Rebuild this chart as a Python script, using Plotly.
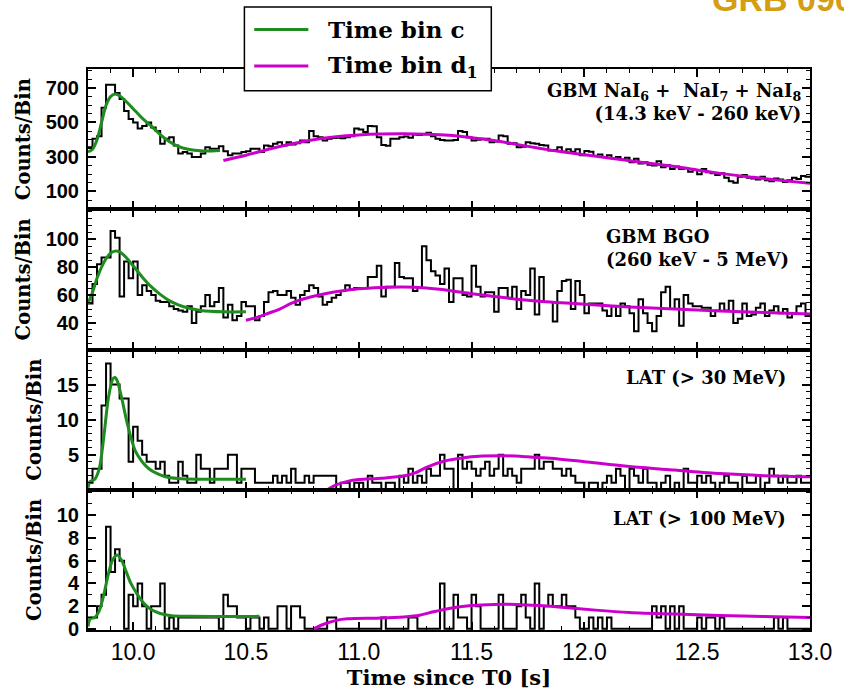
import numpy as np
import plotly.graph_objects as go
from plotly.subplots import make_subplots

# ---- binning (0.02 s bins starting at 9.80 s) ----
BIN_START = 9.80
BIN_WIDTH = 0.02

# ---- light curves: counts per bin ----
nai_counts = [
    357, 405, 420, 586, 719, 719, 671, 636, 567, 520,
    500, 465, 480, 500, 471, 450, 376, 405, 415, 367,
    320, 329, 320, 300, 300, 320, 357, 347, 347, 362,
    333, 310, 320, 320, 329, 333, 347, 347, 329, 367,
    362, 376, 386,
    367, 386, 372, 380, 395, 386, 450, 420, 415, 395,
    405, 410, 412, 408, 415, 420, 465, 460, 445, 480,
    478, 415, 370, 365, 405, 405, 415, 418, 412, 430,
    428, 432, 440, 420, 405, 398, 395, 395, 398, 450,
    445, 415, 395, 400, 405, 405, 386, 390, 424, 420,
    376, 380, 357, 360, 386, 380, 376, 370, 367, 338,
    340, 357, 330, 345,
    330, 345, 310, 335, 330, 305, 315, 300, 310, 292,
    300, 285, 295, 270, 290, 262, 270, 255, 250, 275,
    240, 252, 230, 245, 230, 235, 215, 225, 200, 230,
    212, 205, 195, 205, 180, 160, 150, 185, 195, 180,
    175, 170, 185, 165, 160, 175, 170, 155, 165, 180,
    172, 190, 185,
]

bgo_counts = [
    54, 68, 82, 87, 87, 106, 101, 59, 84, 72,
    84, 60, 67, 63, 60, 56, 55, 55, 52, 50,
    49, 48, 52, 40, 48, 52, 60, 52, 55, 65,
    44, 53, 42, 45, 55, 52, 52, 42, 45, 55,
    62, 63, 60,
    60, 63, 58, 53, 60, 63, 67, 65, 59, 53,
    55, 58, 60, 63, 67, 64, 65, 65, 65, 73,
    73, 81, 59, 66, 66, 83, 73, 72, 72, 63,
    65, 95, 85, 77, 74, 68, 79, 55, 72, 72,
    60, 59, 81, 66, 59, 62, 62, 48, 65, 65,
    58, 66, 50, 63, 60, 79, 46, 73, 55, 55,
    41, 63, 70, 71, 50,
    70, 60, 47, 54, 54, 54, 49, 45, 52, 45,
    54, 52, 47, 34, 57, 47, 40, 34, 45, 62,
    66, 50, 57, 38, 60, 54, 52, 52, 51, 51,
    45, 49, 54, 49, 56, 40, 43, 54, 45, 46,
    51, 54, 45, 49, 52, 47, 50, 44, 47, 52,
    54, 45,
]

lat30_counts = [
    1, 3, 3, 12, 18, 15, 15, 13, 13, 4,
    9, 7, 5, 4, 4, 3, 4, 2, 1, 1,
    4, 2, 1, 1, 5, 3, 3, 1, 3, 3,
    3, 5, 5, 1, 3, 3, 3, 1, 1, 1,
    1, 2, 1, 2, 1, 3,
    1, 1, 2, 1, 2, 2, 2, 2, 2, 0,
    1, 1, 0, 1, 1, 0, 2, 1, 1, 0,
    1, 1, 0, 2, 1, 3, 1, 2, 1, 3,
    2, 2, 5, 3, 3, 0, 5, 3, 4, 3,
    2, 3, 4, 2, 3, 5, 2, 3, 2, 1,
    3, 3, 3, 5, 3, 4, 4, 3, 3, 2,
    3, 2, 1, 1, 0, 1, 1, 0, 1, 2,
    1, 3, 2, 0, 3, 2, 1, 3, 1, 1,
    0, 1, 2, 0, 1, 0, 3, 1, 1, 2,
    1, 2, 1, 0, 1, 2, 1, 1, 0, 2,
    1, 1, 2, 0, 1, 3, 2, 1, 2, 1,
    1, 2, 1, 1,
]

lat100_counts = [
    1, 1, 2, 3, 9, 5, 7, 6, 0, 3,
    2, 4, 2, 0, 2, 2, 4, 0, 1, 0,
    1, 1, 1, 1, 1, 1, 1, 1, 1, 0,
    3, 2, 2, 1, 1, 0, 1, 1, 0, 1,
    0, 0, 2, 2,
    0, 2, 2, 1, 0, 0, 0, 0, 0, 1,
    1, 0, 0, 0, 0, 0, 0, 0, 0, 0,
    0, 1, 0, 0, 0, 0, 0, 1, 1, 0,
    0, 0, 0, 0, 4, 0, 0, 3, 1, 1,
    0, 3, 2, 0, 0, 0, 0, 3, 0, 0,
    0, 2, 3, 1, 0, 4, 0, 2, 3, 2,
    2, 3, 2, 2, 1, 0, 0, 1, 0, 1,
    0, 1, 0, 0, 0, 0, 0, 0, 0, 0,
    0, 2, 1, 2, 0, 2, 0, 2, 0, 0,
    0, 1, 0, 1, 1, 0, 1, 0, 0, 0,
    0, 0, 0, 0, 0, 0, 0, 0, 1, 0,
    1, 0, 0, 0, 0, 0,
]

# ---- model curves: time bin c (green) and time bin d1 (magenta) ----
nai_c_t = [9.80, 9.82, 9.84, 9.86, 9.88, 9.90, 9.92, 9.94, 9.97, 10.00,
           10.04, 10.08, 10.12, 10.16, 10.20, 10.25, 10.30, 10.35, 10.385]
nai_c_v = [330, 345, 400, 500, 600, 650, 665, 655, 620, 580,
           525, 480, 430, 390, 362, 343, 336, 335, 337]
nai_d_t = [10.40, 10.5, 10.6, 10.7, 10.8, 10.9, 11.0, 11.1, 11.2, 11.3,
           11.4, 11.5, 11.6, 11.7, 11.8, 11.9, 12.0, 12.1, 12.25, 12.4,
           12.5, 12.6, 12.75, 12.9, 13.0]
nai_d_v = [280, 310, 345, 375, 400, 418, 428, 433, 434, 432,
           426, 412, 395, 373, 350, 330, 313, 296, 270, 245,
           225, 205, 182, 160, 147]

bgo_c_t = [9.80, 9.82, 9.84, 9.86, 9.88, 9.90, 9.92, 9.94, 9.96, 9.98,
           10.00, 10.04, 10.08, 10.12, 10.16, 10.20, 10.25, 10.30, 10.40, 10.50]
bgo_c_v = [54, 62, 72, 80, 86, 90, 91.5, 91, 88.5, 85,
           81, 73, 66, 60.5, 56, 53, 50.5, 49, 48, 48]
bgo_d_t = [10.50, 10.55, 10.6, 10.65, 10.7, 10.75, 10.85, 11.0, 11.1, 11.2,
           11.3, 11.4, 11.5, 11.6, 11.7, 11.8, 11.9, 12.0, 12.2, 12.4,
           12.6, 12.8, 13.0]
bgo_d_v = [42, 44, 47, 50, 54, 57, 61, 64.5, 65.5, 65.8,
           65, 63.3, 61, 59, 57, 55.5, 54.5, 53.5, 51.5, 50,
           48.5, 47.5, 46.5]

lat30_c_t = [9.80, 9.81, 9.83, 9.85, 9.87, 9.89, 9.91, 9.92, 9.93, 9.95,
             9.97, 9.99, 10.01, 10.04, 10.07, 10.10, 10.14, 10.20, 10.30, 10.50]
lat30_c_v = [0.3, 1.2, 1.5, 3.0, 7.5, 13.0, 15.8, 16.0, 15.5, 13.0,
             10.0, 7.5, 5.5, 4.0, 3.0, 2.4, 1.9, 1.6, 1.5, 1.5]
lat30_d_t = [10.86, 10.9, 10.95, 11.0, 11.1, 11.2, 11.25, 11.3, 11.38, 11.45,
             11.55, 11.65, 11.75, 11.85, 12.0, 12.2, 12.4, 12.6, 12.8, 13.0]
lat30_d_v = [0.0, 0.7, 1.2, 1.45, 1.65, 1.95, 2.4, 3.2, 4.1, 4.5,
             4.8, 4.85, 4.7, 4.5, 4.0, 3.3, 2.8, 2.3, 2.0, 1.85]

lat100_c_t = [9.80, 9.81, 9.83, 9.85, 9.87, 9.89, 9.91, 9.93, 9.95, 9.97,
              9.99, 10.02, 10.05, 10.08, 10.12, 10.17, 10.25, 10.56]
lat100_c_v = [0.2, 0.9, 1.0, 1.6, 3.0, 4.8, 6.1, 6.5, 6.0, 5.0,
              4.0, 3.0, 2.2, 1.7, 1.35, 1.15, 1.1, 1.1]
lat100_d_t = [10.80, 10.85, 10.9, 10.95, 11.1, 11.2, 11.27, 11.33, 11.4, 11.5,
              11.6, 11.7, 11.8, 11.9, 12.05, 12.2, 12.4, 12.6, 12.8, 13.0]
lat100_d_v = [0.0, 0.45, 0.75, 0.88, 0.95, 1.05, 1.2, 1.5, 1.8, 2.05,
              2.15, 2.15, 2.05, 1.9, 1.65, 1.45, 1.3, 1.18, 1.08, 1.0]

# ---- axis ticks / ranges per panel ----
x_ticks = [10.0, 10.5, 11.0, 11.5, 12.0, 12.5, 13.0]
y_ranges = [[-3, 810], [21, 121.5], [0, 20], [-0.1, 12.25]]
y_ticks = [[100, 300, 500, 700], [40, 60, 80, 100], [5, 10, 15], [0, 2, 4, 6, 8, 10]]
y_minor = [50, 5, 1, 1]

panel_labels = [
    "GBM NaI<sub>6</sub> +  NaI<sub>7</sub> + NaI<sub>8</sub><br>(14.3 keV - 260 keV)",
    "GBM BGO<br>(260 keV - 5 MeV)",
    "LAT (&gt; 30 MeV)",
    "LAT (&gt; 100 MeV)",
]

GREEN = "#1e8c1e"
MAGENTA = "#cc00cc"
SERIF = "DejaVu Serif"
SANS = "Liberation Sans"

W, H = 844, 695
ML, MR, MT, MB = 88, 22, 69, 57
PW, PH = W - ML - MR, H - MT - MB


def px(x):
    return (x - ML) / PW


def py(y):
    return (H - MB - y) / PH


panels = [
    (nai_counts, nai_c_t, nai_c_v, nai_d_t, nai_d_v),
    (bgo_counts, bgo_c_t, bgo_c_v, bgo_d_t, bgo_d_v),
    (lat30_counts, lat30_c_t, lat30_c_v, lat30_d_t, lat30_d_v),
    (lat100_counts, lat100_c_t, lat100_c_v, lat100_d_t, lat100_d_v),
]

fig = make_subplots(rows=4, cols=1, shared_xaxes=True, vertical_spacing=0)

for row, (counts, ct, cv, dt, dv) in enumerate(panels, start=1):
    edges = BIN_START + BIN_WIDTH * np.arange(len(counts) + 1)
    fig.add_trace(go.Scatter(
        x=edges, y=list(counts) + [counts[-1]], mode="lines",
        line=dict(color="black", width=2, shape="hv"),
        showlegend=False, hoverinfo="skip"), row=row, col=1)
    fig.add_trace(go.Scatter(
        x=ct, y=cv, mode="lines", name="Time bin c",
        line=dict(color=GREEN, width=3, shape="spline", smoothing=0.8),
        showlegend=False), row=row, col=1)
    fig.add_trace(go.Scatter(
        x=dt, y=dv, mode="lines", name="Time bin d<sub>1</sub>",
        line=dict(color=MAGENTA, width=3, shape="spline", smoothing=0.8),
        showlegend=False), row=row, col=1)

    fig.update_yaxes(
        row=row, col=1, range=y_ranges[row - 1], tickvals=y_ticks[row - 1],
        ticks="inside", ticklen=8, tickwidth=1.5, tickcolor="black",
        showline=True, linewidth=2, linecolor="black", mirror="allticks",
        showgrid=False, zeroline=False,
        tickfont=dict(family=SANS, size=20, color="black", weight="bold"),
        ticklabelstandoff=3,
        minor=dict(dtick=y_minor[row - 1], tick0=0, ticks="inside", ticklen=4,
                   tickwidth=1, tickcolor="black"),
        title=dict(text="Counts/Bin", standoff=10,
                   font=dict(family=SERIF, size=19.5, color="black", weight="bold")),
    )
    fig.update_xaxes(
        row=row, col=1, range=[9.8, 13.0], tickvals=x_ticks, tickformat=".1f",
        ticks="inside", ticklen=8, tickwidth=1.5, tickcolor="black",
        showline=True, linewidth=2, linecolor="black", mirror="allticks",
        showgrid=False, zeroline=False,
        showticklabels=(row == 4), ticklabeloverflow="allow",
        tickfont=dict(family=SANS, size=23, color="black"),
        minor=dict(dtick=0.1, tick0=9.8, ticks="inside", ticklen=4,
                   tickwidth=1, tickcolor="black"),
    )

fig.update_xaxes(row=4, col=1, title=dict(
    text="Time since T0 [s]", standoff=4,
    font=dict(family=SERIF, size=21, color="black", weight="bold")))

annos = [
    dict(text=panel_labels[0], x=px(815), y=py(102), xanchor="right", yanchor="middle", align="right"),
    dict(text=panel_labels[1], x=px(613), y=py(251), xanchor="left", yanchor="middle", align="left"),
    dict(text=panel_labels[2], x=px(800), y=py(382), xanchor="right", yanchor="middle", align="right"),
    dict(text=panel_labels[3], x=px(800), y=py(525), xanchor="right", yanchor="middle", align="right"),
]
for a in annos:
    fig.add_annotation(xref="paper", yref="paper", showarrow=False,
                       font=dict(family=SERIF, size=18, color="black", weight="bold"), **a)

# legend box drawn in paper space
fig.add_shape(type="rect", xref="paper", yref="paper",
              x0=px(247), x1=px(498), y0=py(91), y1=py(6),
              line=dict(color="black", width=1.5), fillcolor="white", layer="above")
for yy, col, label in [(29, GREEN, "Time bin c"), (66, MAGENTA, "Time bin d<sub>1</sub>")]:
    fig.add_shape(type="line", xref="paper", yref="paper",
                  x0=px(257), x1=px(312), y0=py(yy), y1=py(yy),
                  line=dict(color=col, width=3), layer="above")
    fig.add_annotation(xref="paper", yref="paper", showarrow=False,
                       x=px(330), y=py(yy), xanchor="left", yanchor="middle",
                       text=label,
                       font=dict(family=SERIF, size=23, color="black", weight="bold"))

# slide title running off the top edge
fig.add_annotation(xref="paper", yref="paper", showarrow=False,
                   x=px(720), y=py(19), xanchor="left", yanchor="bottom",
                   text="GRB 090926A",
                   font=dict(family=SANS, size=34, color="#d49e12", weight="bold"))

fig.update_layout(
    width=W, height=H, margin=dict(l=ML, r=MR, t=MT, b=MB),
    plot_bgcolor="white", paper_bgcolor="white", showlegend=False,
)

fig.write_html("out.html")
